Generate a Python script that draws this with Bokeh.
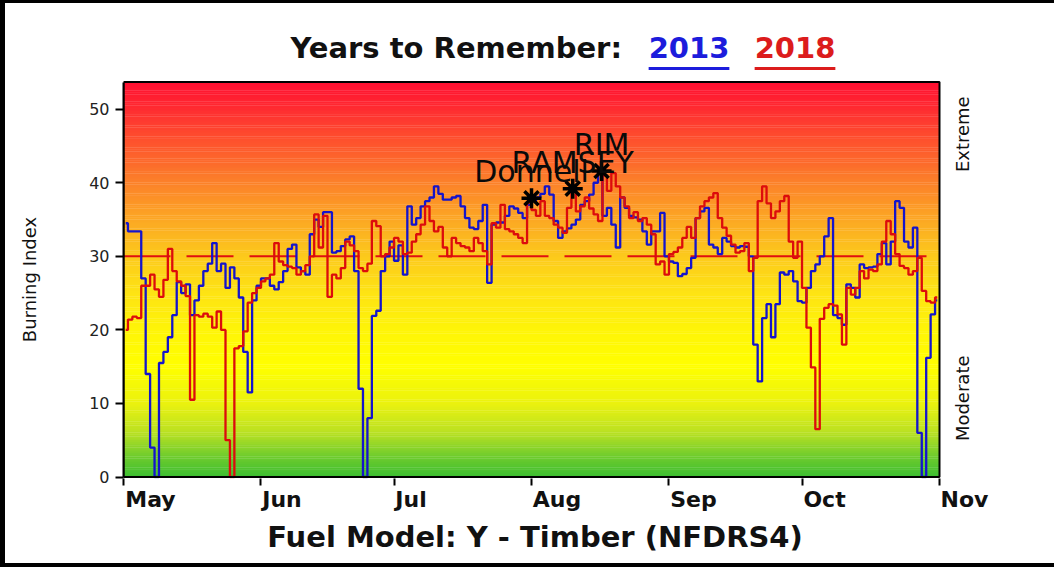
import numpy as np
from bokeh.plotting import figure
from bokeh.layouts import column
from bokeh.models import (ColumnDataSource, FixedTicker, Range1d, LabelSet,
                          CustomJSTickFormatter, Div)
from bokeh.core.properties import value
from bokeh.embed import file_html
from bokeh.resources import INLINE

# ---------------- data ----------------
month_names = ["May", "Jun", "Jul", "Aug", "Sep", "Oct", "Nov"]
month_lengths = [31, 30, 31, 31, 30, 31]

# Burning Index, daily, May 1 .. Oct 31
bi_2013 = (
    # May
    [34.5, 33.4, 33.4, 33.4, 27, 14, 4, 0, 15.5, 17, 19, 22, 26.5, 25, 26.2, 22,
     24, 26, 28, 29, 31.8, 28, 29, 25.7, 28.5, 27, 24.4, 17, 11.5, 24, 26]
    # Jun
    + [27, 27, 26, 25.5, 26.5, 28, 31, 31.6, 28.5, 28, 27.5, 33, 35, 34, 36, 36,
       30.5, 30.7, 31.4, 32.3, 32.7, 28, 12, 0, 8, 21.9, 22.6, 28, 30, 32]
    # Jul
    + [29.4, 31.5, 27.5, 36.8, 34.3, 35.2, 36.8, 37.5, 38, 39.5, 38.5, 37.7, 37.7,
       38, 38.2, 36.8, 35.2, 33.9, 33.7, 34.8, 37, 26.4, 34.3, 34.6, 34.6, 35.5,
       36.8, 36.5, 35.9, 35.2, 37]
    # Aug
    + [37.5, 38, 38.5, 39.5, 38.4, 34.8, 32.5, 33.4, 33.8, 34.3, 35, 37, 37.5,
       38.4, 40, 41.6, 35.5, 36.6, 34.3, 31.2, 38, 36.6, 35.5, 35.3, 35, 33.4,
       31.6, 33.4, 33.4, 35.9, 30]
    # Sep
    + [29.3, 29.1, 27.3, 27.6, 28.4, 29.8, 35.2, 36.1, 36.6, 31.6, 31.2, 30.3,
       32.5, 32, 31.4, 31.2, 31.4, 31.3, 30, 18, 13, 21.6, 23.5, 19, 23.5, 27.8,
       27.5, 28, 26.6, 23.9]
    # Oct
    + [23.7, 25.7, 28, 28.9, 30, 32.7, 35.2, 22, 21.6, 20.7, 26.2, 25.7, 24.4,
       28.9, 28.4, 28.5, 28.6, 30.3, 31.8, 28.9, 32, 37.5, 36.6, 32, 31.2, 33.9,
       6, 0, 16.2, 22.1, 24]
)

bi_2018 = (
    # May
    [20, 21.4, 21.8, 21.6, 26, 26, 27.5, 25.5, 24.5, 26.8, 31, 28, 26.6, 26, 24.6,
     10.5, 22, 21.8, 22.2, 21.8, 20.3, 22.5, 20, 5, 0, 17.5, 17.8, 19.8, 23.7, 25,
     25.7]
    # Jun
    + [26.6, 27, 27.5, 31.8, 29.3, 28.8, 28.6, 28.4, 27.5, 28, 28.8, 30, 35.7,
       31.2, 35.5, 24.5, 27.5, 27, 28.4, 32, 31.5, 30.7, 28.4, 28, 29, 34.8, 34.1,
       30, 30.3, 31.2]
    # Jul
    + [32.5, 32, 30.3, 30.5, 32, 33, 34.3, 36.8, 34.8, 33.4, 34, 31.2, 30, 32.5,
       31.8, 31.4, 31.2, 30.7, 32.5, 31.8, 30.7, 28.9, 34.5, 33.9, 37, 33.7, 33.4,
       33, 32.5, 31.8, 37.3]
    # Aug
    + [36.3, 35.5, 37.5, 35.5, 35.2, 34.3, 33.9, 33.2, 36.6, 38.9, 36.1, 36.8, 38,
       36.5, 35.7, 34.8, 41, 38.9, 41.3, 39.5, 38, 36.8, 35.2, 36, 34.8, 35.2,
       34.3, 33, 28.9, 29.3, 27.5]
    # Sep
    + [30.3, 30.6, 31.2, 32.5, 34, 32.5, 35.2, 36.8, 37.5, 38, 38.6, 35.2, 33.9,
       32.8, 31.6, 30.5, 30.7, 31.8, 28, 29.8, 37.5, 39.5, 37.2, 35.2, 36.1, 37.5,
       38.2, 32, 29.8, 32]
    # Oct
    + [25.7, 20.3, 14.9, 6.5, 21.5, 23, 23.5, 23.3, 22.1, 18, 25.7, 24.8, 25.7,
       28, 27, 28.2, 28, 28.9, 32, 34.8, 33, 30.3, 28.7, 28.4, 27.5, 28, 29.8,
       25.3, 23.9, 23.7, 24.4]
)

fire_names = ["Donnell", "RAMSEY", "RIM"]
fire_day = [92.0, 101.3, 107.8]
fire_bi = [37.9, 39.2, 41.6]

y_ticks = [0, 10, 20, 30, 40, 50]
y_max = 53.7
threshold = 30
zone_names = ["Extreme", "Moderate"]
zone_centers = [46.6, 10.7]

# background gradient stops (Burning Index value -> RGB)
grad_stops = [0, 3, 6, 10, 15, 20, 25, 30, 35, 40, 45, 50, 53.7]
grad_r = [60, 115, 185, 235, 255, 255, 254, 253, 252, 252, 254, 255, 255]
grad_g = [190, 205, 225, 242, 255, 245, 228, 202, 168, 130, 88, 45, 15]
grad_b = [50, 45, 35, 15, 0, 8, 20, 28, 36, 42, 45, 50, 48]

title_main = "Years to Remember:"
year_a, year_b = "2013", "2018"
footer = "Fuel Model: Y - Timber (NFDRS4)"

# ---------------- layout constants ----------------
FIG_W = 1049            # page width minus the 5px left border line
CHART_W = 816           # pixel width of the May..Oct chart box
FRAME_W = 877           # frame includes room right of the box for "Nov"/zone names
FRAME_H = 398
BORDER_L = 118
BLUE = "#1414cc"
RED = "#dc0c0c"
FONT = "DejaVu Sans"
month_label_half_px = [26, 20, 16, 24.5, 23.5, 21.5, 24]   # to start labels at ticks
zone_label_gap_px = 23

# ---------------- derived ----------------
month_starts = [int(v) for v in np.concatenate([[0], np.cumsum(month_lengths)])]
n_days = month_starts[-1]
day_centers = np.arange(n_days) + 0.5
px_per_day = CHART_W / n_days
x_end = FRAME_W / px_per_day
px_per_unit = (FRAME_H - 3) / y_max
y_pad = 1.5 / px_per_unit
month_label_x = [m + (h + 1) / px_per_day for m, h in zip(month_starts, month_label_half_px)]

p = figure(frame_width=FRAME_W, frame_height=FRAME_H, output_backend="svg",
           toolbar_location=None, x_range=Range1d(0, x_end),
           y_range=Range1d(-y_pad, y_max + y_pad))
p.min_border_left = BORDER_L
p.min_border_right = FIG_W - BORDER_L - FRAME_W
p.min_border_top = 7
p.min_border_bottom = 40
p.background_fill_color = "white"
p.border_fill_color = "white"
p.outline_line_color = None
p.xgrid.grid_line_color = None
p.ygrid.grid_line_color = None

# gradient background
lv = np.arange(0, y_max, 0.25)
lv_top = np.minimum(lv + 0.3, y_max)
mid = (lv + lv_top) / 2
rr = np.interp(mid, grad_stops, grad_r)
gg = np.interp(mid, grad_stops, grad_g)
bb = np.interp(mid, grad_stops, grad_b)
cols = ["#%02x%02x%02x" % (int(r), int(g), int(b)) for r, g, b in zip(rr, gg, bb)]
grad_src = ColumnDataSource(dict(bottom=lv, top=lv_top, color=cols))
gq = p.quad(left=0, right=n_days, bottom="bottom", top="top", fill_color="color",
            line_color=None, source=grad_src)
gq.level = "image"

# threshold dashed line
tl = p.line([0, n_days], [threshold, threshold], line_color="#e01010",
            line_width=2, line_dash="47 16")
tl.level = "underlay"

# data lines
p.step(day_centers, bi_2013, mode="center", line_color=BLUE, line_width=2.3)
p.step(day_centers, bi_2018, mode="center", line_color=RED, line_width=2.3)

# chart box
p.quad(left=0, right=n_days, bottom=0, top=y_max, fill_color=None,
       line_color="black", line_width=2)

# fire markers + labels
fire_src = ColumnDataSource(dict(x=fire_day, y=fire_bi, name=fire_names))
p.scatter("x", "y", source=fire_src, marker="asterisk", size=20,
          line_color="black", line_width=3.5)
p.add_layout(LabelSet(x="x", y="y", text="name", source=fire_src,
                      text_align="center", text_baseline="alphabetic", y_offset=16,
                      text_font=value(FONT), text_font_size="30px",
                      text_color="#0a0a0a"))

# zone names at right of the box
zone_src = ColumnDataSource(dict(
    x=[n_days + zone_label_gap_px / px_per_day] * len(zone_names),
    y=zone_centers, name=zone_names))
p.text("x", "y", text="name", source=zone_src, angle=np.pi / 2,
       text_align="center", text_baseline="middle", text_font=value(FONT),
       text_font_size="18px", text_color="#111111")

# y axis
ya = p.yaxis[0]
ya.ticker = FixedTicker(ticks=y_ticks)
ya.bounds = (0, y_max)
ya.major_label_text_font = FONT
ya.major_label_text_font_size = "16px"
ya.major_label_text_color = "#222222"
ya.major_label_standoff = 6
ya.major_tick_out = 8
ya.major_tick_in = 0
ya.major_tick_line_width = 2
ya.minor_tick_line_color = None
ya.axis_line_width = 2
ya.axis_label = "Burning Index"
ya.axis_label_text_font = FONT
ya.axis_label_text_font_style = "normal"
ya.axis_label_text_font_size = "18px"
ya.axis_label_text_color = "#111111"
ya.axis_label_standoff = 46

# x axis: month ticks (as minor ticks) and month names starting at each tick
xa = p.xaxis[0]
xa.ticker = FixedTicker(ticks=month_label_x, minor_ticks=month_starts)
xa.formatter = CustomJSTickFormatter(args=dict(names=month_names),
                                     code="return names[index]")
xa.axis_line_color = None
xa.major_tick_line_color = None
xa.major_tick_out = 7
xa.major_tick_in = 0
xa.minor_tick_line_color = "black"
xa.minor_tick_line_width = 2
xa.minor_tick_out = 7
xa.minor_tick_in = 0
xa.major_label_standoff = 1
xa.major_label_text_font = FONT
xa.major_label_text_font_size = "22px"
xa.major_label_text_font_style = "bold"
xa.major_label_text_color = "#111111"

# title / footer as html around the figure
TXT = (f"font-family:'{FONT}';font-weight:bold;font-size:29px;line-height:29px;"
       "position:absolute;white-space:nowrap;")
ul = ("text-decoration:underline;text-decoration-thickness:3px;"
      "text-underline-offset:9px;")
title_html = (
    f'<div style="position:relative;width:{FIG_W}px;height:70px;">'
    f'<span style="{TXT}right:{FIG_W - 617}px;top:31px;color:#111111">{title_main}</span>'
    f'<span style="{TXT}left:684px;top:31px;transform:translateX(-50%);'
    f'color:#1c1cdc;{ul}">{year_a}</span>'
    f'<span style="{TXT}left:790px;top:31px;transform:translateX(-50%);'
    f'color:#dc1c1c;{ul}">{year_b}</span>'
    '</div>'
)
footer_html = (
    f'<div style="position:relative;width:{FIG_W}px;height:45px;">'
    f'<span style="{TXT}left:530px;top:5px;transform:translateX(-50%);'
    f'color:#111111">{footer}</span>'
    '</div>'
)
title_div = Div(text=title_html, width=FIG_W, height=70, margin=0)
footer_div = Div(text=footer_html, width=FIG_W, height=45, margin=0)

layout = column(title_div, p, footer_div, spacing=0,
                styles={"border-left": "5px solid black",
                        "border-top": "3px solid black",
                        "border-bottom": "4px solid black"})

open("out.html", "w").write(file_html(layout, INLINE))
